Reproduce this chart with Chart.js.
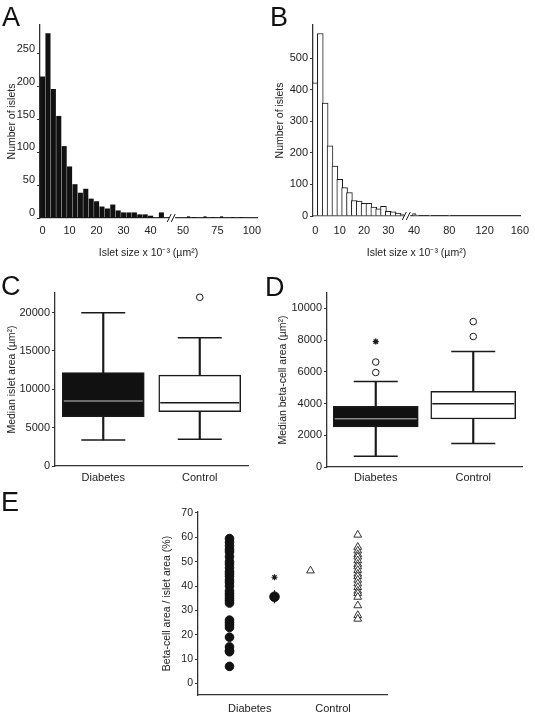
<!DOCTYPE html>
<html>
<head>
<meta charset="utf-8">
<script src="https://cdn.jsdelivr.net/npm/chart.js@4.4.1/dist/chart.umd.min.js"></script>
<style>
  html, body { margin: 0; padding: 0; background: #fff; }
  body { width: 535px; height: 715px; position: relative; overflow: hidden; font-family: "Liberation Sans", Arial, sans-serif; }
  canvas { position: absolute; }
  .tag { position: absolute; font-size: 27px; line-height: 27px; color: #111; }
</style>
</head>
<body>
<canvas id="chartA" width="265" height="262" style="left:0;top:0"></canvas>
<canvas id="chartB" width="270" height="262" style="left:265px;top:0"></canvas>
<canvas id="chartC" width="265" height="228" style="left:0;top:262px"></canvas>
<canvas id="chartD" width="270" height="228" style="left:265px;top:262px"></canvas>
<canvas id="chartE" width="260" height="225" style="left:140px;top:490px"></canvas>
<div class="tag" style="left:2px;top:4px">A</div>
<div class="tag" style="left:270px;top:4px">B</div>
<div class="tag" style="left:1px;top:273px">C</div>
<div class="tag" style="left:265px;top:274px">D</div>
<div class="tag" style="left:1px;top:489px">E</div>
<script>
// Panel A: islet size histogram, diabetes (bins of 2 x 10^3 um2)
const aBins = [0, 2, 4, 6, 8, 10, 12, 14, 16, 18, 20, 22, 24, 26, 28, 30, 32, 34, 36, 38, 40, 42, 44];
const aCounts = [215, 281, 196, 155, 109, 78, 51, 38, 44, 29, 25, 17, 14, 20, 11, 8, 8, 8, 5, 5, 3, null, 8];
const aTailBins = [54, 58, 66, 72, 78, 86, 92];
const aTailCounts = [2, 1, 2, 1, 2, 1, 1];
const aXTicks = [0, 10, 20, 30, 40, 50, 75, 100];
const aYTicks = [0, 50, 100, 150, 200, 250];

// Panel B: islet size histogram, control
const bBins = [0, 2, 4, 6, 8, 10, 12, 14, 16, 18, 20, 22, 24, 26, 28, 30, 32, 34, 36];
const bCounts = [422, 578, 358, 222, 158, 116, 90, 74, 49, 47, 40, 40, 28, 23, 31, 15, 13, 9, 6];
const bTailBins = [40, 42, 44, 58, 80];
const bTailCounts = [8, 4, 2, 2, 2];
const bXTicks = [0, 10, 20, 30, 40, 80, 120, 160];
const bYTicks = [0, 100, 200, 300, 400, 500];

// Panel C: median islet area
const groups = ['Diabetes', 'Control'];
const cMin = [3390, 3480];
const cQ1 = [6430, 7080];
const cMedian = [8470, 8250];
const cQ3 = [12170, 11860];
const cMax = [19990, 16730];
const cOutlierGroups = ['Control'];
const cOutlierValues = [22000];
const cYTicks = [0, 5000, 10000, 15000, 20000];

// Panel D: median beta-cell area
const dMin = [680, 1480];
const dQ1 = [2530, 3030];
const dMedian = [3050, 3990];
const dQ3 = [3820, 4770];
const dMax = [5400, 7280];
const dOutlierGroups = ['Diabetes', 'Diabetes', 'Control', 'Control'];
const dOutlierValues = [6620, 5960, 9170, 8230];
const dExtremeGroups = ['Diabetes'];
const dExtremeValues = [7910];
const dYTicks = [0, 2000, 4000, 6000, 8000, 10000];

// Panel E: beta-cell area / islet area (%)
const eDiabetes = [59.5, 58, 56.5, 55, 54, 52, 50, 49, 47.5, 46, 45, 44, 42.5, 41.5, 40, 38, 37, 36, 35, 34, 33, 26, 25, 24, 23, 19, 15, 13.5, 13, 7];
const eDiabetesMean = 35.6;
const eDiabetesSem = 2.7;
const eStar = 43.6;
const eControlMean = 46.3;
const eControl = [61, 56, 54.5, 53, 52, 50.5, 49, 48, 46.5, 45, 44, 42.5, 41, 39.5, 38, 37, 35.5, 32, 28, 26.5];
const eYTicks = [0, 10, 20, 30, 40, 50, 60, 70];

const AXIS = '#333';
const INK = '#1a1a1a';

Chart.defaults.font.family = '"Liberation Sans", Arial, Helvetica, sans-serif';
Chart.defaults.font.size = 11;
Chart.defaults.color = '#222';
Chart.defaults.animation = false;
Chart.defaults.responsive = false;
Chart.defaults.layout.autoPadding = false;
Chart.defaults.plugins.legend.display = false;
Chart.defaults.plugins.tooltip.enabled = false;

// broken x axes: linear left part, compressed right part
function posA(v) { return v < 49 ? v : 52 + (v - 50) * 0.51; }
function posB(v) { return v < 39 ? v : 40.6 + (v - 40) * 0.363; }

// draws the "//" mark where the x axis is broken
const axisBreak = {
    id: 'axisBreak',
    afterDatasetsDraw(chart, args, opts) {
        if (opts.at == null) return;
        const x = chart.scales.x.getPixelForValue(opts.at);
        const y = chart.chartArea.bottom;
        const ctx = chart.ctx;
        ctx.save();
        ctx.fillStyle = '#fff';
        ctx.fillRect(x - 3, y - 2, 6, 4);
        ctx.strokeStyle = INK;
        ctx.lineWidth = 1;
        ctx.beginPath();
        ctx.moveTo(x - 5, y + 4); ctx.lineTo(x - 1, y - 4);
        ctx.moveTo(x - 1, y + 4); ctx.lineTo(x + 3, y - 4);
        ctx.stroke();
        ctx.restore();
    }
};
Chart.register(axisBreak);

// fixed height for x axes, no extra side padding from edge labels
function fixHeight(h) {
    return s => { s.height = h; s.paddingLeft = 0; s.paddingRight = 0; };
}

function yAxis(cfg) {
    return {
        type: 'linear',
        min: cfg.min,
        max: cfg.max,
        afterFit: s => { s.width = cfg.width; },
        afterBuildTicks: s => { s.ticks = cfg.ticks.map(v => ({ value: v })); },
        border: { display: true, color: AXIS, width: 1.3 },
        grid: { drawOnChartArea: false, drawTicks: true, tickLength: 3, color: AXIS, lineWidth: 1 },
        ticks: { padding: 2, labelOffset: cfg.labelOffset || 0, font: { size: cfg.fontSize || 11 }, callback: v => String(v) },
        title: { display: true, text: cfg.title, padding: { top: cfg.titlePad, bottom: 0 }, font: { size: 10.5 } }
    };
}

function xBroken(cfg) {
    return {
        type: 'linear',
        offset: false,
        min: cfg.min,
        max: cfg.max,
        afterFit: fixHeight(cfg.height),
        afterBuildTicks: s => { s.ticks = cfg.labels.map(v => ({ value: cfg.pos(v) })); },
        border: { display: true, color: AXIS, width: 1.3 },
        grid: { display: false, drawTicks: false, offset: false },
        ticks: { padding: cfg.pad, autoSkip: false, maxRotation: 0, callback: (v, i) => String(cfg.labels[i]) },
        title: { display: true, text: 'Islet size x 10\u207B\u00B3 (\u00B5m\u00B2)', padding: { top: 0, bottom: 3 }, font: { size: 10.5 } }
    };
}

function catAxis(height, pad) {
    return {
        type: 'category',
        offset: true,
        afterFit: fixHeight(height),
        border: { display: true, color: AXIS, width: 1.3 },
        grid: { display: false, drawTicks: false },
        ticks: { padding: pad, font: { size: 11 } }
    };
}

// Panel A
new Chart('chartA', {
    type: 'bar',
    data: {
        datasets: [
            {
                data: aBins.map((b, i) => ({ x: posA(b), y: aCounts[i] })),
                backgroundColor: '#111',
                barThickness: 4.4,
                grouped: false
            },
            {
                data: aTailBins.map((b, i) => ({ x: posA(b), y: aTailCounts[i] })),
                backgroundColor: '#111',
                barThickness: 2.5,
                grouped: false
            }
        ]
    },
    options: {
        layout: { padding: { top: 25, right: 8, left: 0, bottom: 0 } },
        scales: {
            x: xBroken({ min: -0.95, max: 79.4, height: 44, pad: 6, labels: aXTicks, pos: posA }),
            y: yAxis({ min: 0, max: 294, width: 40, ticks: aYTicks, labelOffset: -5, title: 'Number of islets', titlePad: 6 })
        },
        plugins: { axisBreak: { at: 48 } }
    }
});

// Panel B
new Chart('chartB', {
    type: 'bar',
    data: {
        datasets: [
            {
                data: bBins.map((b, i) => ({ x: posB(b), y: bCounts[i] })),
                backgroundColor: '#fff',
                borderColor: INK,
                borderWidth: 1,
                barThickness: 5.86,
                grouped: false
            },
            {
                data: bTailBins.map((b, i) => ({ x: posB(b), y: bTailCounts[i] })),
                backgroundColor: '#fff',
                borderColor: INK,
                borderWidth: 1,
                barThickness: 3,
                grouped: false
            }
        ]
    },
    options: {
        layout: { padding: { top: 25, right: 15, left: 0, bottom: 0 } },
        scales: {
            x: xBroken({ min: -1, max: 84.2, height: 46, pad: 8, labels: bXTicks, pos: posB }),
            y: yAxis({ min: 0, max: 605, width: 48, ticks: bYTicks, title: 'Number of islets', titlePad: 9 })
        },
        plugins: { axisBreak: { at: 37.8 } }
    }
});

// box plot built from floating bars (box, whiskers) and line point styles (caps, median)
function boxSets(g) {
    const at = vals => vals.map((y, i) => ({ x: groups[i], y }));
    return [
        {
            type: 'line', data: at(g.median), showLine: false, clip: false,
            pointStyle: 'line', pointRadius: g.boxW / 2 - 1.5,
            pointBorderColor: g.medColors, pointBorderWidth: 1.5
        },
        {
            type: 'line', data: at(g.max).concat(at(g.min)), showLine: false, clip: false,
            pointStyle: 'line', pointRadius: g.capR, pointBorderColor: INK, pointBorderWidth: 1.5
        },
        {
            type: 'line', data: g.outGroups.map((x, i) => ({ x, y: g.outValues[i] })), showLine: false, clip: false,
            pointStyle: 'circle', pointRadius: 3.3, pointBackgroundColor: '#fff', pointBorderColor: INK, pointBorderWidth: 1
        },
        {
            type: 'line', data: g.extGroups.map((x, i) => ({ x, y: g.extValues[i] })), showLine: false, clip: false,
            pointStyle: 'star', pointRadius: 3, pointBorderColor: INK, pointBorderWidth: 1.3
        },
        {
            type: 'bar', data: g.q1.map((v, i) => [v, g.q3[i]]),
            backgroundColor: ['#111', '#fff'], borderColor: INK, borderWidth: 1.5, borderSkipped: false,
            barThickness: g.boxW, grouped: false
        },
        {
            type: 'bar', data: g.q3.map((v, i) => [v, g.max[i]]),
            backgroundColor: INK, barThickness: 1.5, grouped: false
        },
        {
            type: 'bar', data: g.min.map((v, i) => [v, g.q1[i]]),
            backgroundColor: INK, barThickness: 1.5, grouped: false
        }
    ];
}

// Panel C
new Chart('chartC', {
    type: 'bar',
    data: {
        labels: groups,
        datasets: boxSets({
            min: cMin, q1: cQ1, median: cMedian, q3: cQ3, max: cMax,
            outGroups: cOutlierGroups, outValues: cOutlierValues, extGroups: [], extValues: [],
            medColors: ['#8a8a8a', INK], boxW: 82, capR: 22
        })
    },
    options: {
        layout: { padding: { top: 31, right: 17, left: 0, bottom: 0 } },
        scales: {
            x: catAxis(24, 5),
            y: yAxis({ min: 0, max: 22560, width: 55, ticks: cYTicks, title: 'Median islet area (\u00B5m\u00B2)', titlePad: 6 })
        }
    }
});

// Panel D
new Chart('chartD', {
    type: 'bar',
    data: {
        labels: groups,
        datasets: boxSets({
            min: dMin, q1: dQ1, median: dMedian, q3: dQ3, max: dMax,
            outGroups: dOutlierGroups, outValues: dOutlierValues, extGroups: dExtremeGroups, extValues: dExtremeValues,
            medColors: ['#8a8a8a', INK], boxW: 85, capR: 22
        })
    },
    options: {
        layout: { padding: { top: 31, right: 13, left: 0, bottom: 0 } },
        scales: {
            x: catAxis(23, 4),
            y: yAxis({ min: 0, max: 10975, width: 62, ticks: dYTicks, title: 'Median beta-cell area (\u00B5m\u00B2)', titlePad: 12 })
        }
    }
});

// Panel E
const eXLabels = ['Diabetes', 'Control'];
const eXLabelPos = [1.45, 3.3];
new Chart('chartE', {
    type: 'scatter',
    data: {
        datasets: [
            {
                data: [{ x: 2, y: eStar }], clip: false,
                pointStyle: 'star', pointRadius: 3, pointBorderColor: INK, pointBorderWidth: 1.2
            },
            {
                data: [{ x: 2, y: eDiabetesMean }], clip: false,
                pointRadius: 4.8, pointBackgroundColor: '#111', pointBorderColor: '#111'
            },
            {
                type: 'line', data: [{ x: 2, y: eDiabetesMean - eDiabetesSem }, { x: 2, y: eDiabetesMean + eDiabetesSem }],
                showLine: true, borderColor: INK, borderWidth: 1.2, pointRadius: 0
            },
            {
                data: [{ x: 2.8, y: eControlMean }], clip: false,
                pointStyle: 'triangle', pointRadius: 4.5, pointBackgroundColor: '#fff', pointBorderColor: '#333', pointBorderWidth: 1
            },
            {
                data: eControl.map(y => ({ x: 3.85, y })), clip: false,
                pointStyle: 'triangle', pointRadius: 4.5, pointBackgroundColor: '#fff', pointBorderColor: '#333', pointBorderWidth: 1
            },
            {
                data: eDiabetes.map(y => ({ x: 1, y })), clip: false,
                pointStyle: 'circle', pointRadius: 4.3, pointBackgroundColor: '#111', pointBorderColor: '#111'
            }
        ]
    },
    options: {
        layout: { padding: { top: 22, right: 13, left: 0, bottom: 0 } },
        scales: {
            x: {
                type: 'linear', min: 0.3, max: 4.5,
                afterFit: fixHeight(20),
                afterBuildTicks: s => { s.ticks = eXLabelPos.map(v => ({ value: v })); },
                border: { display: true, color: AXIS, width: 1.3 },
                grid: { display: false, drawTicks: false },
                ticks: { padding: 7, autoSkip: false, maxRotation: 0, callback: (v, i) => eXLabels[i] }
            },
            y: yAxis({ min: -4.75, max: 70.4, width: 58, ticks: eYTicks, fontSize: 10.5, title: 'Beta-cell area / islet area (%)', titlePad: 21 })
        }
    }
});
</script>
</body>
</html>
